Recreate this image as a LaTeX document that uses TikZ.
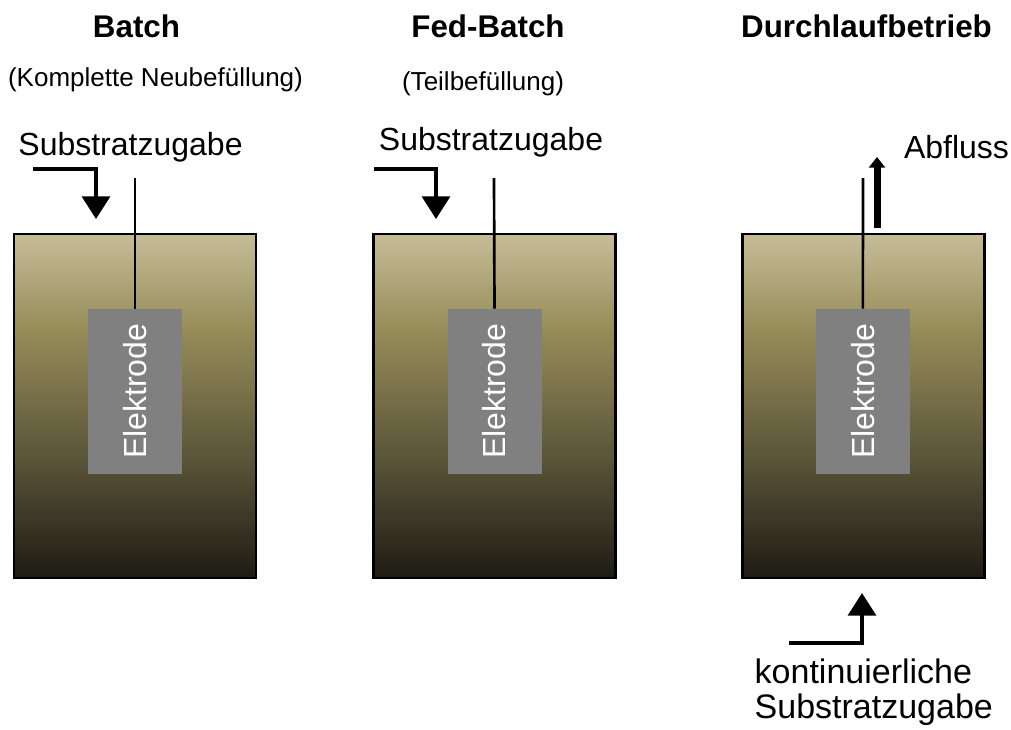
\documentclass[tikz,border=0pt]{standalone}
\usepackage{fontspec}
\setmainfont{Liberation Sans}
\usepackage{tikz}
\usetikzlibrary{positioning, arrows.meta}

\definecolor{tktop}{RGB}{197,189,152}
\definecolor{tkolive}{RGB}{150,140,88}
\definecolor{tkmid}{RGB}{92,86,58}
\definecolor{tkbot}{RGB}{30,27,19}
\definecolor{elgray}{RGB}{128,128,128}
\pgfdeclareverticalshading{tankfill}{100bp}{color(0bp)=(tkbot); color(25bp)=(tkbot);
  color(43bp)=(tkmid); color(61bp)=(tkolive); color(75bp)=(tktop); color(100bp)=(tktop)}

\begin{document}
\begin{tikzpicture}[x=0.75pt, y=-0.75pt,
	tank/.style={draw, line width=2.2pt, shading=tankfill, minimum width=181.5pt, minimum height=258pt, inner sep=0pt},
	electrode/.style={fill=elgray, minimum width=70.5pt, minimum height=123.75pt, inner sep=0pt,
		text=white, font=\fontsize{24}{28}\selectfont},
	title/.style={anchor=base, font=\fontsize{23.5}{28}\selectfont\bfseries},
	label/.style={anchor=base, font=\fontsize{24}{28}\selectfont},
	small/.style={anchor=base, font=\fontsize{19.5}{24}\selectfont},
	wire/.style={line width=2pt},
	feed/.style={line width=2.6pt, -{Triangle[width=21pt, length=17pt]}},
	outflow/.style={line width=5.25pt, -{Triangle[width=12pt, length=8pt]}}]
	\useasboundingbox (0,0) rectangle (1011,729);

	% tanks
	\node[tank] (t1) at (135,406) {};
	\node[tank] (t2) at (494.5,406) {};
	\node[tank] (t3) at (863.5,406) {};

	% electrodes
	\node[electrode, below=57pt of t1.north] (e1) {\rotatebox{90}{Elektrode}};
	\node[electrode, below=57pt of t2.north] (e2) {\rotatebox{90}{Elektrode}};
	\node[electrode, below=57pt of t3.north, xshift=-0.5pt] (e3) {\rotatebox{90}{Elektrode}};

	\coordinate (w1) at (135,178);
	\coordinate (w2) at (494,178);
	\coordinate (w3) at (863,178);
	\draw[wire] (w1) -- (e1.north);
	\draw[wire] (w2) -- (e2.north);
	\draw[wire] (w3) -- (e3.north);

	% titles
	\node[title] (h1) at (136.5,37) {Batch};
	\node[title] (h2) at (488,37) {Fed-Batch};
	\node[title] (h3) at (866.5,37) {Durchlaufbetrieb};
	\node[small] (s1) at (155.5,86) {(Komplette Neubefüllung)};
	\node[small] (s2) at (483,90) {(Teilbefüllung)};

	% substrate feed
	\node[label] (z1) at (130.5,155) {Substratzugabe};
	\node[label] (z2) at (491,150) {Substratzugabe};
	\coordinate (f1) at (33,169);
	\coordinate (d1) at (96,219);
	\coordinate (f2) at (374,169);
	\coordinate (d2) at (436,219);
	\draw[feed] (f1) -| (d1);
	\draw[feed] (f2) -| (d2);

	% continuous operation
	\node[label] (ab) at (956.5,158) {Abfluss};
	\coordinate (a0) at (877,228);
	\coordinate (a1) at (877,157);
	\draw[outflow] (a0) -- (a1);
	\node[label, anchor=base west, align=left, font=\fontsize{25.5}{26}\selectfont] (kz) at (750,718)
		{kontinuierliche\\Substratzugabe};
	\coordinate (f3) at (789,643);
	\coordinate (d3) at (862,593);
	\draw[feed] (f3) -| (d3);
\end{tikzpicture}
\end{document}
